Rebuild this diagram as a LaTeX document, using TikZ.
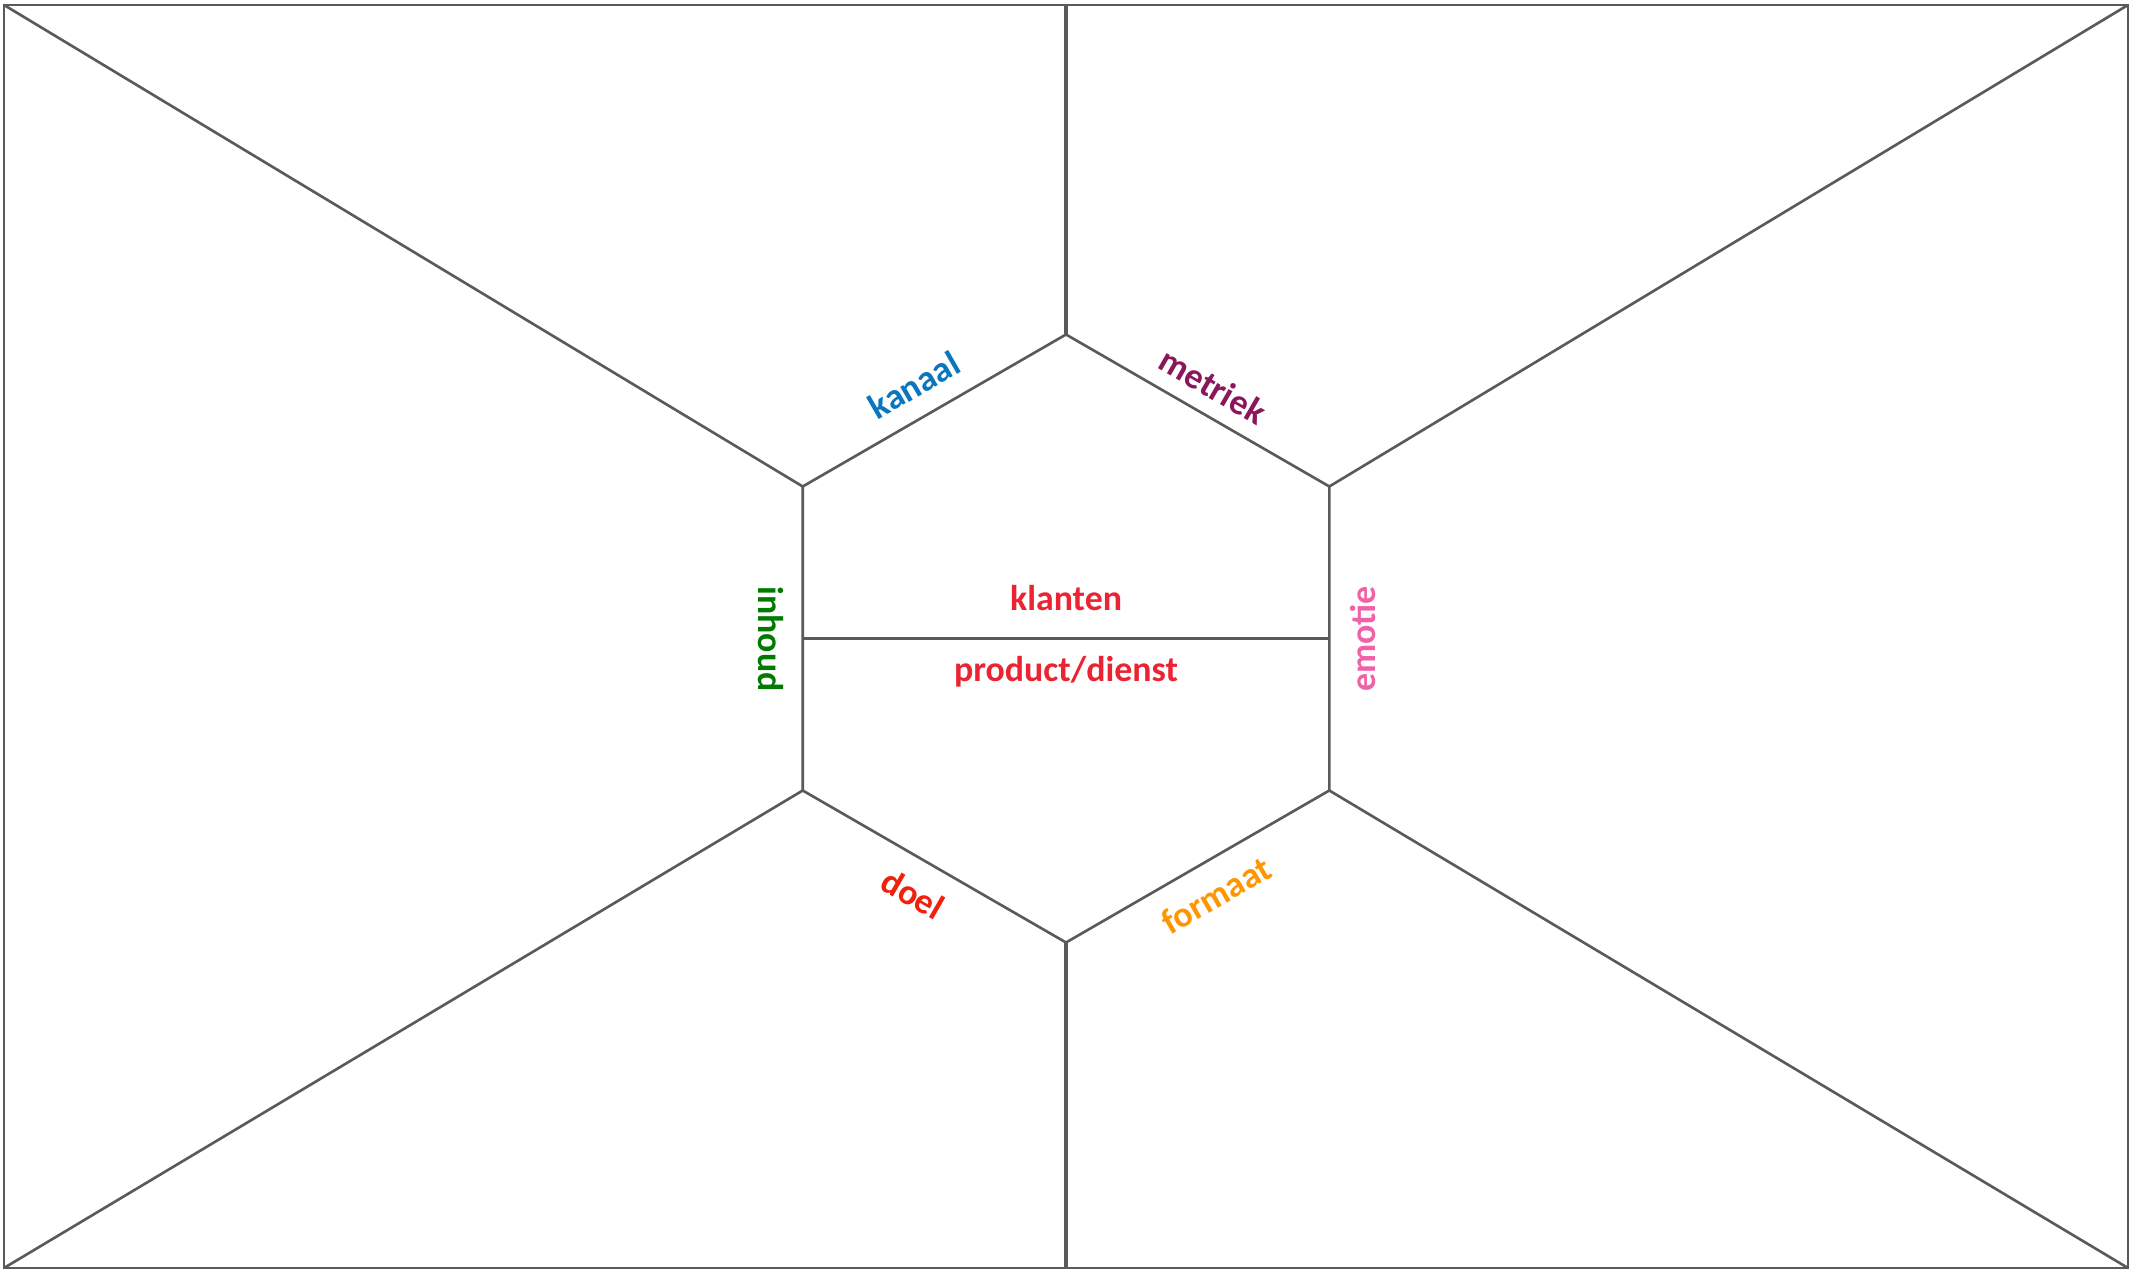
\documentclass[tikz,border=0pt]{standalone}
\usepackage{fontspec}
\setmainfont{Carlito}
\usetikzlibrary{calc}
\definecolor{edgegray}{RGB}{90, 90, 90}
\definecolor{kanaalblue}{RGB}{10, 118, 190}
\definecolor{metriekpurple}{RGB}{140, 22, 92}
\definecolor{inhoudgreen}{RGB}{0, 122, 0}
\definecolor{emotiepink}{RGB}{240, 98, 168}
\definecolor{klantred}{RGB}{234, 36, 50}
\definecolor{doelred}{RGB}{240, 32, 12}
\definecolor{formaatorange}{RGB}{255, 150, 0}
\tikzset{
  frame/.style  = {draw=edgegray, line width=0.75pt},
  spoke/.style  = {draw=edgegray, line width=0.75pt},
  stem/.style   = {draw=edgegray, line width=1.15pt},
  lbl/.style    = {font=\bfseries\fontsize{10.2}{12}\selectfont, inner sep=0pt},
}

\begin{document}
\begin{tikzpicture}[x=0.01cm, y=-0.01cm]

\useasboundingbox (0,0) rectangle (2140,1271);

% ===================== frame =====================
\coordinate (tl) at (4,    5);
\coordinate (tr) at (2128, 5);
\coordinate (bl) at (4,    1268);
\coordinate (br) at (2128, 1268);
\coordinate (tm) at (1066, 5);
\coordinate (bm) at (1066, 1268);

\draw[frame] (tl) rectangle (br);

% ===================== hexagon =====================
\coordinate (hc)  at (1066,  638.5);
\coordinate (ht)  at (1066,  334.5);
\coordinate (hur) at (1329.3, 486.5);
\coordinate (hlr) at (1329.3, 790.5);
\coordinate (hb)  at (1066,  942.5);
\coordinate (hll) at (802.7, 790.5);
\coordinate (hul) at (802.7, 486.5);
\coordinate (hml) at (802.7, 638.5);
\coordinate (hmr) at (1329.3, 638.5);

\draw[spoke] (ht) -- (hur) -- (hlr) -- (hb) -- (hll) -- (hul) -- cycle;
\draw[spoke] (hml) -- (hmr);

% spokes to the corners
\draw[spoke] (tl) -- (hul);
\draw[spoke] (tr) -- (hur);
\draw[spoke] (bl) -- (hll);
\draw[spoke] (br) -- (hlr);

% stems to top and bottom
\draw[stem] (tm) -- (ht);
\draw[stem] (hb) -- (bm);

% ===================== labels =====================
\node[lbl, text=kanaalblue, rotate=30]     (kanaal)  at (914,  385) {kanaal};
\node[lbl, text=metriekpurple, rotate=-30] (metriek) at (1213, 386) {metriek};
\node[lbl, text=inhoudgreen, rotate=-90]   (inhoud)  at (771,  639) {inhoud};
\node[lbl, text=emotiepink, rotate=90]     (emotie)  at (1363, 639) {emotie};
\node[lbl, text=klantred]                  (klanten) at (1066, 598) {klanten};
\node[lbl, text=klantred]                  (product) at (1066, 672) {product/dienst};
\node[lbl, text=doelred, rotate=-30]       (doel)    at (913,  894) {doel};
\node[lbl, text=formaatorange, rotate=30]  (formaat) at (1216, 895) {formaat};

\end{tikzpicture}
\end{document}
